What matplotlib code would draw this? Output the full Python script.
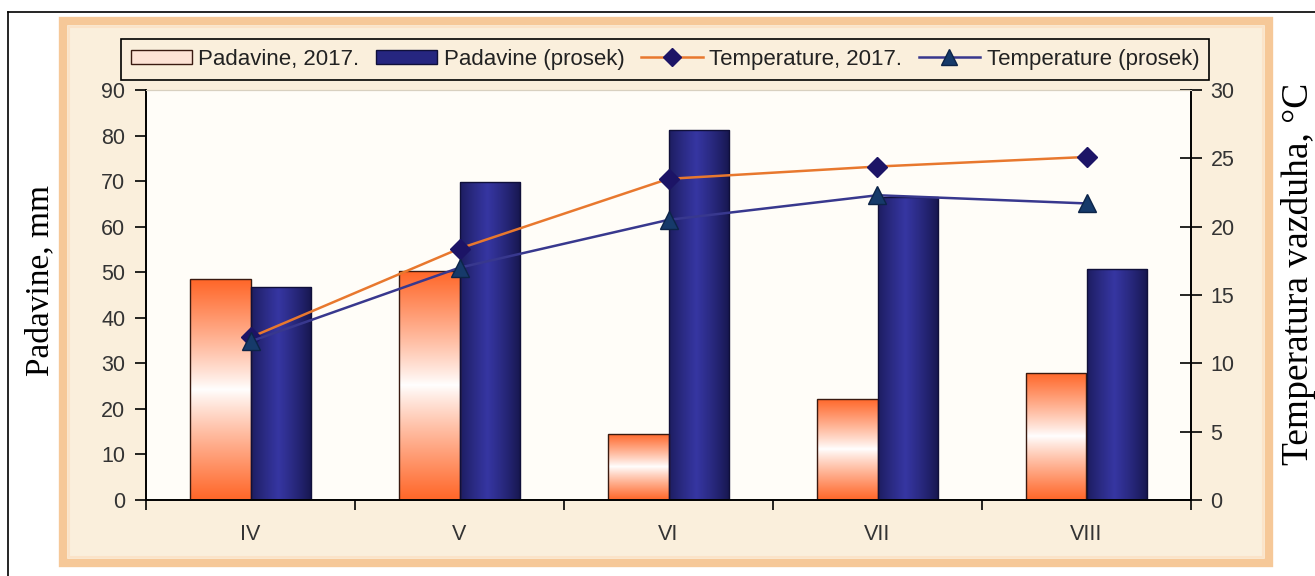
import numpy as np
import matplotlib
matplotlib.use("Agg")
from matplotlib import pyplot as plt
from matplotlib.patches import Rectangle, Patch
from matplotlib.lines import Line2D
from matplotlib.colors import to_rgb

# data
months = ["IV", "V", "VI", "VII", "VIII"]
rain_2017 = [48.5, 50.3, 14.5, 22.2, 27.9]
rain_avg = [46.7, 69.7, 81.2, 66.6, 50.7]
temp_2017 = [11.9, 18.4, 23.5, 24.4, 25.1]
temp_avg = [11.6, 17.0, 20.5, 22.3, 21.7]

W, H = 1315, 576
SANS = "Liberation Sans"
SERIF = "Liberation Serif"

fig = plt.figure(figsize=(W / 100, H / 100), dpi=100, facecolor="white")


def px(x0, y0, x1, y1):
    # pixel box (top-left origin) -> figure fraction rect
    return [x0 / W, 1 - y1 / H, (x1 - x0) / W, (y1 - y0) / H]


# outer black frame lines
fig.add_artist(Line2D([8 / W, 1], [1 - 12 / H] * 2, color="black", lw=1.2))
fig.add_artist(Line2D([8 / W] * 2, [0, 1 - 12 / H], color="black", lw=1.2))

# beige panel with orange border
x0, y0, x1, y1 = 63, 21, 1269, 563
fig.add_artist(Rectangle((x0 / W, 1 - y1 / H), (x1 - x0) / W, (y1 - y0) / H,
                         transform=fig.transFigure, facecolor="#faefdc",
                         edgecolor="#f6c898", lw=6, zorder=0))
fig.add_artist(Rectangle(((x0 + 6) / W, 1 - (y1 - 6) / H), (x1 - x0 - 12) / W, (y1 - y0 - 12) / H,
                         transform=fig.transFigure, facecolor="none",
                         edgecolor="#fbe3c8", lw=1.5, zorder=0))

ax = fig.add_axes(px(146, 90, 1191, 500))
ax.set_facecolor("#fffdf8")
ax2 = ax.twinx()

x = np.arange(len(months))
bw = 0.29

orange = np.array(to_rgb("#ff6628"))
white = np.array([1.0, 1.0, 1.0])
t = np.linspace(0, 1, 200)
f = np.abs(2 * t - 1) ** 0.9
grad_o = (white[None, :] * (1 - f[:, None]) + orange[None, :] * f[:, None])[:, None, :]

b_dark = np.array(to_rgb("#15154a"))
b_mid = np.array(to_rgb("#3636a2"))
s = np.linspace(0, 1, 100)
g = np.clip(1 - np.abs(s - 0.45) / 0.55, 0, 1) ** 0.8
grad_b = (b_dark[None, :] * (1 - g[:, None]) + b_mid[None, :] * g[:, None])[None, :, :]

bars1 = ax.bar(x - bw / 2, rain_2017, bw, facecolor="none", edgecolor="#3a1a10", lw=1, zorder=3)
bars2 = ax.bar(x + bw / 2, rain_avg, bw, facecolor="none", edgecolor="#10103a", lw=1, zorder=3)
for b in bars1:
    bx, by = b.get_x(), b.get_height()
    im = ax.imshow(grad_o, extent=(bx, bx + b.get_width(), 0, by), aspect="auto",
                   origin="lower", zorder=2, interpolation="bilinear")
    im.set_clip_path(b)
for b in bars2:
    bx, by = b.get_x(), b.get_height()
    im = ax.imshow(grad_b, extent=(bx, bx + b.get_width(), 0, by), aspect="auto",
                   origin="lower", zorder=2, interpolation="bilinear")
    im.set_clip_path(b)

ax.set_xlim(-0.5, len(months) - 0.5)
ax.set_ylim(0, 90)
ax.set_yticks(range(0, 91, 10))
ax.set_xticks(x)
ax.set_xticklabels(months)
ax.set_xticks(np.arange(-0.5, len(months), 1.0), minor=True)
ax.tick_params(axis="x", which="major", length=0, pad=17, labelsize=15.5, labelcolor="#333333")
ax.tick_params(axis="x", which="minor", length=7, width=1.2, direction="out")
ax.tick_params(axis="y", length=8, width=1.2, direction="out", pad=7, labelsize=15.5,
               labelcolor="#333333")
for lab in ax.get_xticklabels() + ax.get_yticklabels():
    lab.set_fontfamily(SANS)

ax2.plot(x, temp_2017, color="#e8782e", lw=1.8, marker="D", ms=10, mfc="#1c1466",
         mec="#1c1466", zorder=5)
ax2.plot(x, temp_avg, color="#38388e", lw=1.8, marker="^", ms=13, mfc="#163a6a",
         mec="#0c2448", zorder=5)
ax2.set_ylim(0, 30)
ax2.set_yticks(range(0, 31, 5))
ax2.tick_params(axis="y", length=16, width=1.2, direction="inout", pad=6, labelsize=15.5,
                labelcolor="#333333")
for lab in ax2.get_yticklabels():
    lab.set_fontfamily(SANS)

for a in (ax, ax2):
    a.spines["top"].set_color("#d8d0c0")
    a.spines["top"].set_linewidth(0.8)
    for sp in ("left", "right", "bottom"):
        a.spines[sp].set_linewidth(1.2)

fig.text(40 / W, 1 - 280 / H, "Padavine, mm", rotation=90, ha="center", va="center",
         fontsize=24, family=SERIF)
fig.text(1299 / W, 1 - 274 / H, "Temperatura vazduha, \u00b0C", rotation=90, ha="center",
         va="center", fontsize=27, family=SERIF)

handles = [
    Patch(facecolor="#fde3d5", edgecolor="#3a1a10", lw=1),
    Patch(facecolor="#262680", edgecolor="#10103a", lw=1),
    Line2D([], [], color="#e8782e", lw=1.8, marker="D", ms=9, mfc="#1c1466", mec="#1c1466"),
    Line2D([], [], color="#38388e", lw=1.8, marker="^", ms=11, mfc="#163a6a", mec="#0c2448"),
]
labels = ["Padavine, 2017.", "Padavine (prosek)", "Temperature, 2017.", "Temperature (prosek)"]
leg = fig.legend(handles, labels, loc="center", bbox_to_anchor=(665 / W, 1 - 59 / H),
                 ncol=4, frameon=True, fancybox=False, edgecolor="black", facecolor="#faefdc",
                 framealpha=1, prop={"family": SANS, "size": 16}, handlelength=2.75,
                 handleheight=0.6, columnspacing=0.75, handletextpad=0.3, borderpad=0.45)
leg.get_frame().set_linewidth(1.2)
for txt in leg.get_texts():
    txt.set_color("#222222")

fig.savefig("out.png", dpi=100, facecolor="white")
